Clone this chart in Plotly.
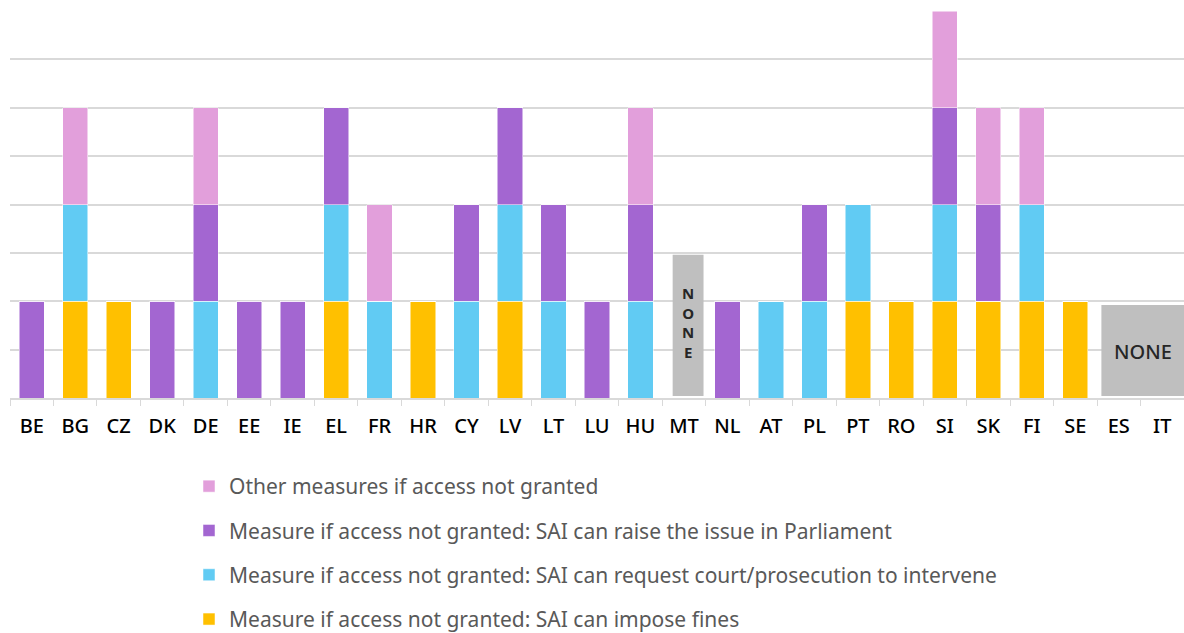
import plotly.graph_objects as go

countries = ["BE", "BG", "CZ", "DK", "DE", "EE", "IE", "EL", "FR", "HR", "CY", "LV", "LT", "LU",
             "HU", "MT", "NL", "AT", "PL", "PT", "RO", "SI", "SK", "FI", "SE", "ES", "IT"]

fines =      [0, 1, 1, 0, 0, 0, 0, 1, 0, 1, 0, 1, 0, 0, 0, 0, 0, 0, 0, 1, 1, 1, 1, 1, 1, 0, 0]
court =      [0, 1, 0, 0, 1, 0, 0, 1, 1, 0, 1, 1, 1, 0, 1, 0, 0, 1, 1, 1, 0, 1, 0, 1, 0, 0, 0]
parliament = [1, 0, 0, 1, 1, 1, 1, 1, 0, 0, 1, 1, 1, 1, 1, 0, 1, 0, 1, 0, 0, 1, 1, 0, 0, 0, 0]
other =      [0, 1, 0, 0, 1, 0, 0, 0, 1, 0, 0, 0, 0, 0, 1, 0, 0, 0, 0, 0, 0, 1, 1, 1, 0, 0, 0]

series_names = [
    "Measure if access not granted: SAI can impose fines",
    "Measure if access not granted: SAI can request court/prosecution to intervene",
    "Measure if access not granted: SAI can raise the issue in Parliament",
    "Other measures if access not granted",
]
series_values = [fines, court, parliament, other]
series_colors = ["#FFC000", "#61CBF3", "#A366D1", "#E29FDB"]

# "NONE" markers: MT (single), ES+IT (combined)
none_mt_height = 1.48
none_esit_height = 0.96

FONT = "Noto Sans"

fig = go.Figure()
for i, (name, vals, col) in enumerate(zip(series_names, series_values, series_colors)):
    fig.add_trace(go.Bar(
        x=countries, y=vals, name=name,
        marker=dict(color=col, line=dict(color="white", width=0.5)),
        width=0.58,
        legendgroup=f"g{i}",
        legendrank=100 - i,
    ))

fig.add_shape(type="rect", xref="x", yref="y", x0=14.74, x1=15.45, y0=0.02, y1=none_mt_height,
              fillcolor="#BFBFBF", line=dict(width=0), layer="above")
fig.add_shape(type="rect", xref="x", yref="y", x0=24.6, x1=26.5, y0=0.02, y1=none_esit_height,
              fillcolor="#BFBFBF", line=dict(width=0), layer="above")
fig.add_annotation(x=15.1, y=0.78, xref="x", yref="y", text="<b>N<br>O<br>N<br>E</b>",
                   showarrow=False, font=dict(family=FONT, size=15, color="#262626"))
fig.add_annotation(x=25.55, y=none_esit_height / 2, xref="x", yref="y", text="NONE",
                   showarrow=False, font=dict(family=FONT, size=20, color="#262626", weight=500))

fig.update_layout(
    barmode="stack",
    width=1184, height=633,
    margin=dict(l=10, r=0, t=11, b=235, autoexpand=False),
    paper_bgcolor="white", plot_bgcolor="white",
    font=dict(family=FONT),
    bargap=0.42,
    legend=dict(
        xref="container", yref="container",
        x=189 / 1184, y=1 - 466 / 633, xanchor="left", yanchor="top",
        orientation="v", traceorder="grouped", tracegroupgap=14,
        font=dict(family=FONT, size=21, color="#595959"),
        itemwidth=30,
    ),
    xaxis=dict(
        type="category", range=[-0.5, 26.5], automargin=False,
        showline=True, linecolor="#D9D9D9", linewidth=1.5,
        ticks="outside", tickson="boundaries", ticklen=6, tickcolor="#D9D9D9",
        tickfont=dict(family=FONT, size=20, color="#000000", weight=500),
        ticklabelstandoff=9,
        showgrid=False,
    ),
    yaxis=dict(
        range=[0, 4], dtick=0.5, showticklabels=False, automargin=False,
        showgrid=True, gridcolor="#D9D9D9", gridwidth=1.5,
        zeroline=False,
    ),
)

fig.write_html("out.html", config={"displayModeBar": False},
               post_script="document.body.style.margin='0';")
